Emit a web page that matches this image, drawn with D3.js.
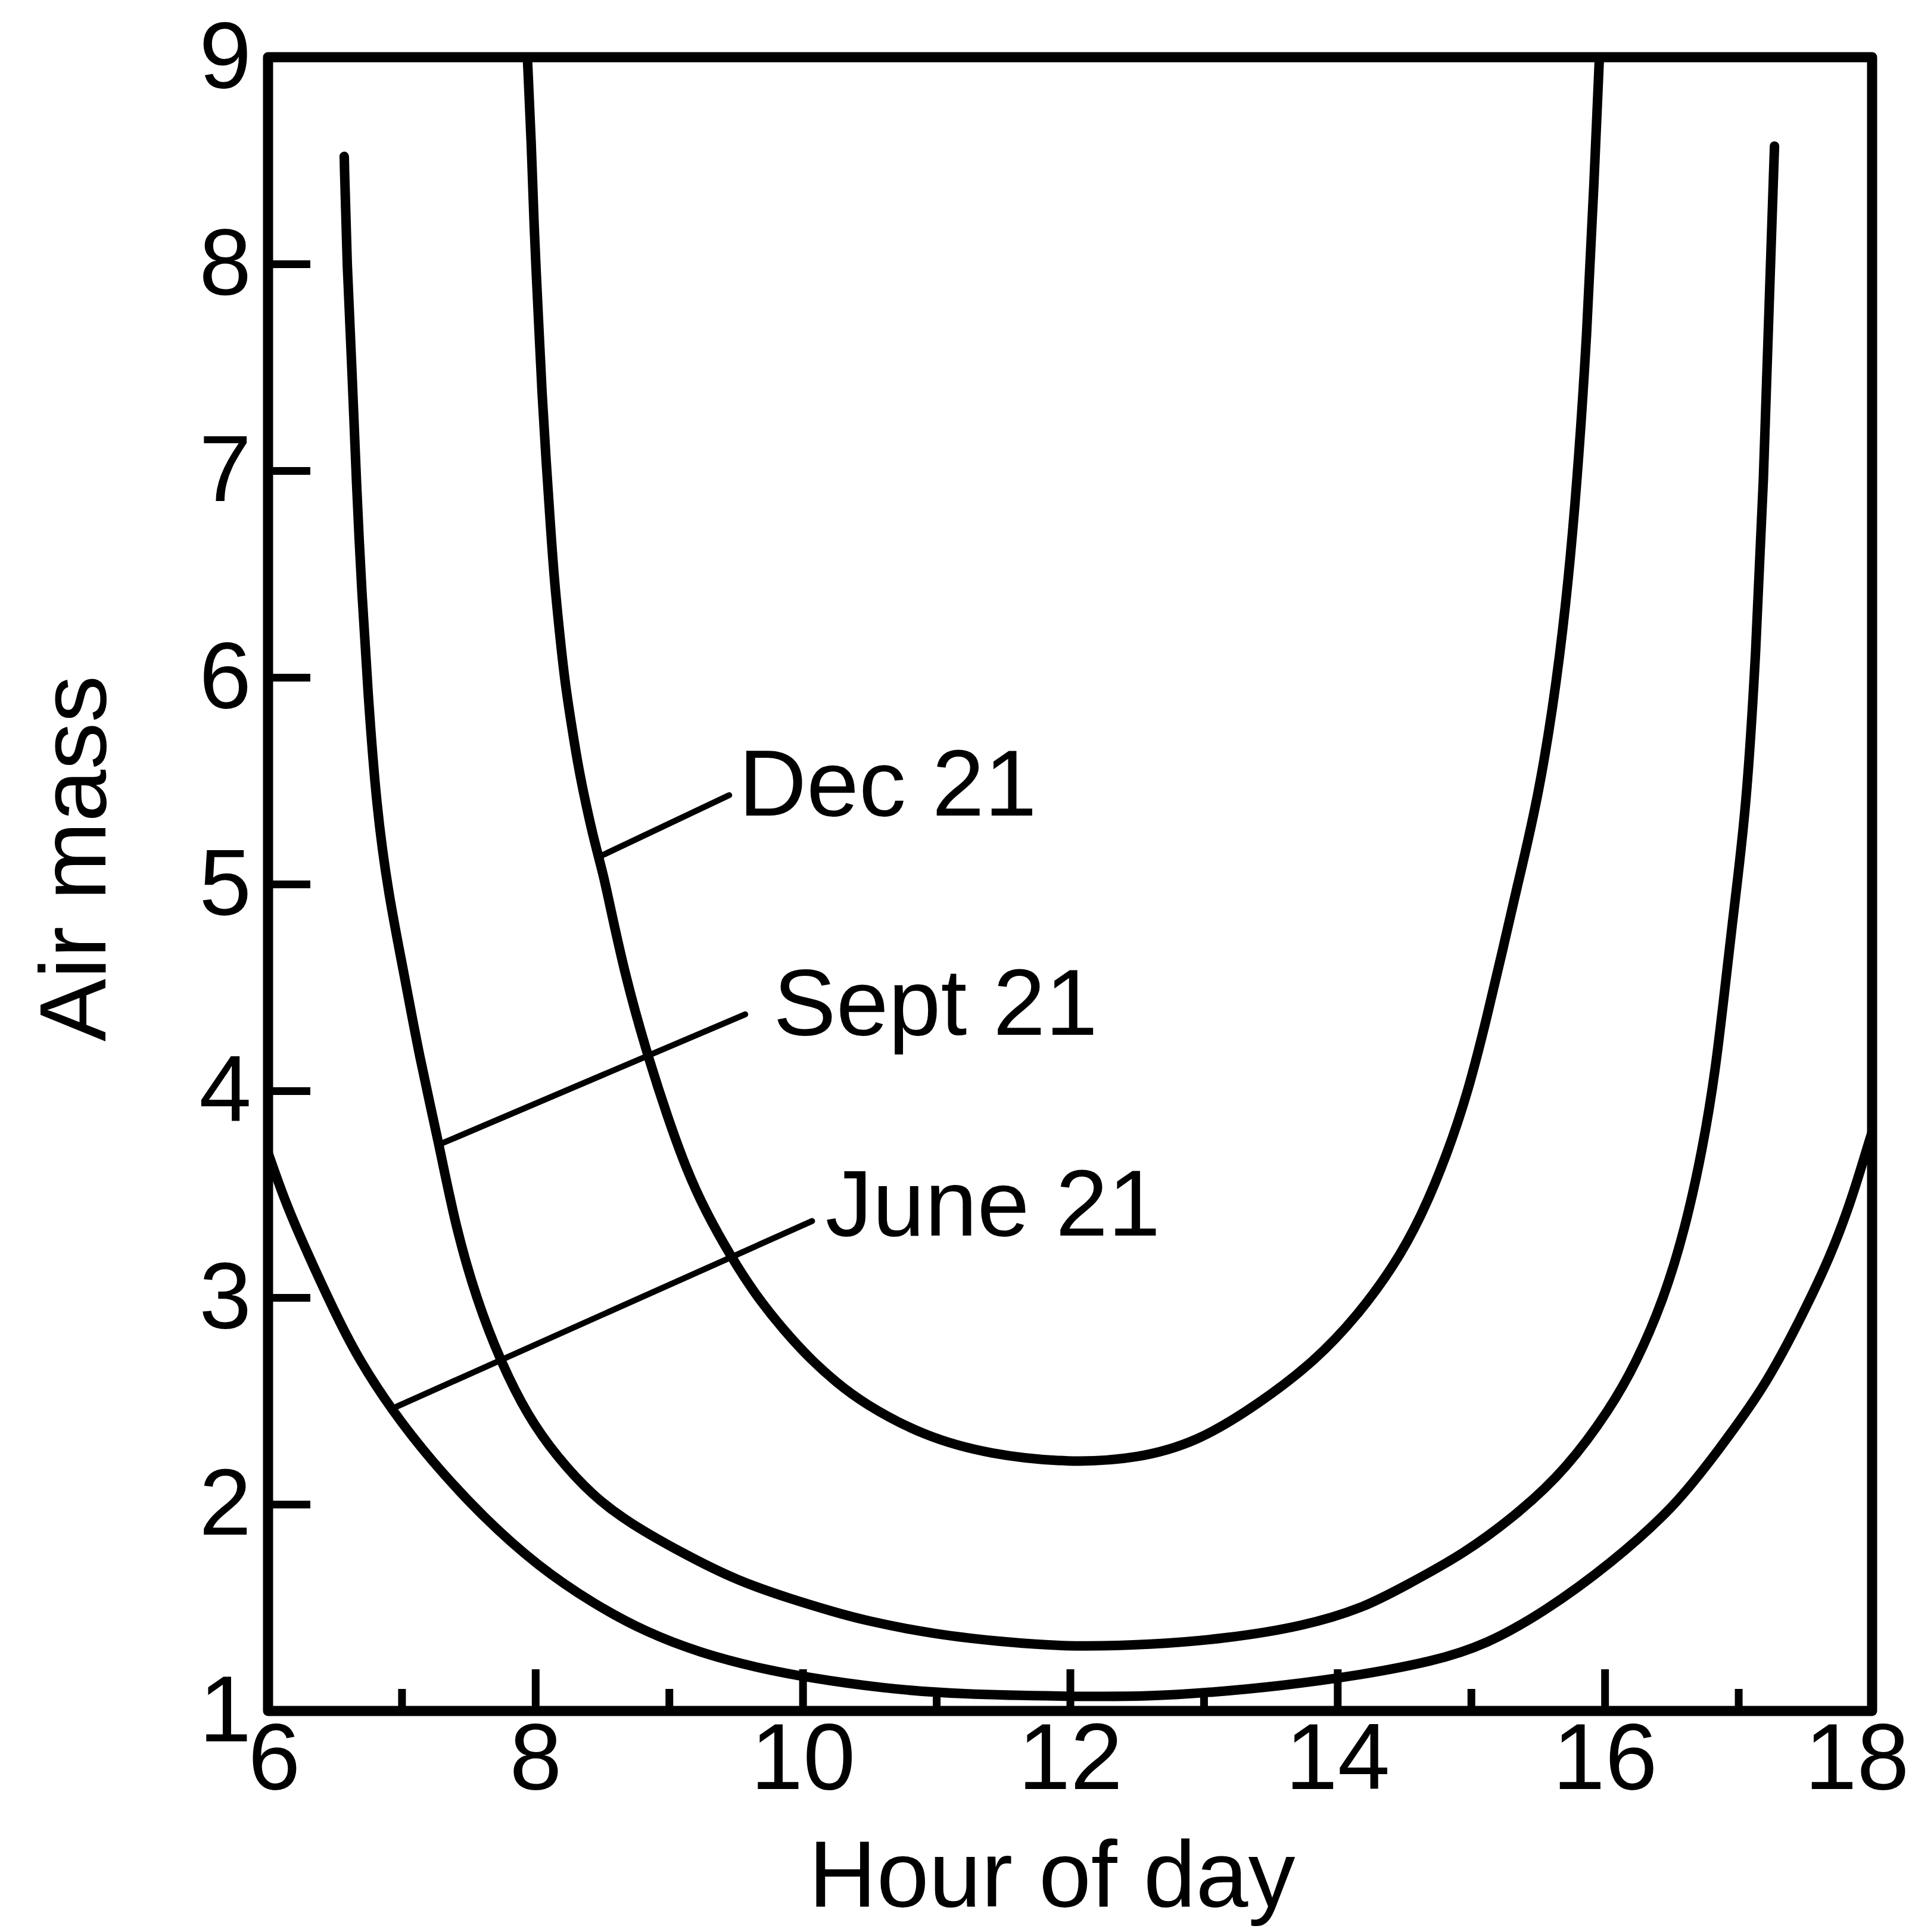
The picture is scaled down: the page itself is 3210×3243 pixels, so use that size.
<!DOCTYPE html>
<html>
<head>
<meta charset="utf-8">
<script src="https://d3js.org/d3.v7.min.js"></script>
<style>
  body { margin: 0; background: #fff; }
  svg text { font-family: "Liberation Sans", Arial, Helvetica, sans-serif; fill: #000; }
  .ticks .domain, .labels .domain { display: none; }
  .ticks line { stroke: #000; stroke-width: 13; }
</style>
</head>
<body>
<svg id="chart" width="3210" height="3243"></svg>
<script>
  // tick values
  const xTickLabels = [6, 8, 10, 12, 14, 16, 18];
  const xMajorTicks = [8, 10, 12, 14, 16];
  const xMinorTicks = [7, 9, 11, 13, 15, 17];
  const yTickLabels = [1, 2, 3, 4, 5, 6, 7, 8, 9];
  const yTicks = [2, 3, 4, 5, 6, 7, 8];

  // Dec 21
  const decHours = [7.94, 7.97, 7.99, 8.02, 8.05, 8.08, 8.11, 8.14, 8.18, 8.22, 8.27, 8.32, 8.38, 8.44, 8.51, 8.54,
    8.67, 8.83, 8.99, 9.13, 9.27, 9.47, 9.65, 9.86, 10.06, 10.25, 10.45, 10.9, 11.4, 12.0, 12.5, 12.95,
    13.40, 13.83, 14.16, 14.42, 14.62, 14.82, 14.98, 15.12, 15.24, 15.33, 15.51, 15.67, 15.78, 15.87, 15.92, 15.96];
  const decAirMass = [9.0, 8.59, 8.17, 7.78, 7.36, 7.05, 6.76, 6.48, 6.22, 5.98, 5.77, 5.57, 5.38, 5.21, 5.04, 4.95,
    4.56, 4.19, 3.87, 3.62, 3.42, 3.19, 3.01, 2.84, 2.70, 2.59, 2.49, 2.33, 2.24, 2.20, 2.22, 2.30,
    2.48, 2.69, 2.92, 3.15, 3.38, 3.69, 4.00, 4.36, 4.69, 4.95, 5.43, 6.10, 6.81, 7.68, 8.40, 9.0];

  // Sept 21
  const septHours = [6.57, 6.59, 6.63, 6.66, 6.70, 6.75, 6.81, 6.90, 7.02, 7.13, 7.28, 7.40, 7.56, 7.74, 7.94, 8.16,
    8.43, 8.70, 9.11, 9.51, 9.92, 10.23, 10.45, 10.98, 11.56, 12.02, 12.60, 13.17, 13.75, 14.2, 14.49, 14.95,
    15.38, 15.71, 16.04, 16.24, 16.44, 16.60, 16.73, 16.83, 16.91, 16.98, 17.06, 17.13, 17.19, 17.23, 17.27];
  const septAirMass = [8.52, 7.99, 7.47, 6.95, 6.42, 5.90, 5.38, 4.95, 4.56, 4.17, 3.74, 3.35, 2.99, 2.69, 2.43, 2.23,
    2.04, 1.91, 1.76, 1.63, 1.54, 1.48, 1.44, 1.37, 1.33, 1.31, 1.32, 1.35, 1.41, 1.50, 1.60, 1.76,
    1.97, 2.17, 2.46, 2.69, 2.99, 3.33, 3.71, 4.10, 4.56, 4.95, 5.38, 6.10, 6.96, 7.82, 8.57];

  // June 21
  const juneHours = [6.00, 6.13, 6.27, 6.49, 6.67, 6.92, 7.22, 7.62, 8.02, 8.43, 8.83, 9.24, 9.65, 10.05, 10.59, 11.17,
    12.02, 12.6, 13.06, 13.56, 14.14, 14.72, 15.11, 15.55, 16.04, 16.53, 16.86, 17.19, 17.46, 17.69, 17.85, 17.97, 18.0];
  const juneAirMass = [3.70, 3.46, 3.25, 2.94, 2.71, 2.46, 2.21, 1.93, 1.70, 1.52, 1.38, 1.28, 1.21, 1.16, 1.11, 1.08,
    1.07, 1.07, 1.09, 1.12, 1.17, 1.24, 1.32, 1.48, 1.71, 1.99, 2.27, 2.56, 2.89, 3.20, 3.48, 3.74, 3.80];

  // curve labels and their leader lines (hour, air mass)
  const labelNames = ["Dec 21", "Sept 21", "June 21"];
  const leaderFromHour = [8.47, 7.28, 6.92];
  const leaderFromAir = [5.13, 3.74, 2.46];
  const leaderToHour = [9.45, 9.57, 10.07];
  const leaderToAir = [5.43, 4.37, 3.37];
  const labelHour = [9.52, 9.78, 10.17];
  const labelAir = [5.33, 4.27, 3.30];

  const series = [
    { name: "Dec 21", pts: d3.zip(decHours, decAirMass) },
    { name: "Sept 21", pts: d3.zip(septHours, septAirMass) },
    { name: "June 21", pts: d3.zip(juneHours, juneAirMass) }
  ];
  const notes = labelNames.map((n, i) => ({
    name: n,
    x1: leaderFromHour[i], y1: leaderFromAir[i],
    x2: leaderToHour[i], y2: leaderToAir[i],
    tx: labelHour[i], ty: labelAir[i]
  }));

  const x = d3.scaleLinear().domain([6, 18]).range([450, 3143]);
  const y = d3.scaleLinear().domain([1, 9]).range([2872, 96]);
  const fontSize = 158;

  const svg = d3.select("svg#chart");
  svg.append("rect").attr("width", 3210).attr("height", 3243).attr("fill", "#fff");

  // b-spline smooths out the small reading errors in the points
  const line = d3.line()
    .x(d => x(d[0]))
    .y(d => y(d[1]))
    .curve(d3.curveBasis);

  svg.append("g").selectAll("path").data(series)
    .join("path")
    .attr("d", s => line(s.pts))
    .attr("fill", "none")
    .attr("stroke", "#000")
    .attr("stroke-width", 16)
    .attr("stroke-linecap", "round")
    .attr("stroke-linejoin", "round");

  svg.append("g").selectAll("line").data(notes)
    .join("line")
    .attr("x1", d => x(d.x1)).attr("y1", d => y(d.y1))
    .attr("x2", d => x(d.x2)).attr("y2", d => y(d.y2))
    .attr("stroke", "#000")
    .attr("stroke-width", 10)
    .attr("stroke-linecap", "round");

  svg.append("g").selectAll("text").data(notes)
    .join("text")
    .attr("x", d => x(d.tx))
    .attr("y", d => y(d.ty))
    .attr("font-size", fontSize)
    .text(d => d.name);

  // ticks pointing inwards, even hours longer
  svg.append("g").attr("class", "ticks")
    .attr("transform", `translate(0,${y(1)})`)
    .call(d3.axisBottom(x).tickValues(xMajorTicks).tickSize(-70).tickFormat(""));
  svg.append("g").attr("class", "ticks")
    .attr("transform", `translate(0,${y(1)})`)
    .call(d3.axisBottom(x).tickValues(xMinorTicks).tickSize(-37).tickFormat(""));
  svg.append("g").attr("class", "ticks")
    .attr("transform", `translate(${x(6)},0)`)
    .call(d3.axisLeft(y).tickValues(yTicks).tickSize(-71).tickFormat(""));

  // frame
  svg.append("rect")
    .attr("x", x(6)).attr("y", y(9))
    .attr("width", x(18) - x(6)).attr("height", y(1) - y(9))
    .attr("fill", "none")
    .attr("stroke", "#000")
    .attr("stroke-width", 17)
    .attr("stroke-linejoin", "round");

  // tick labels
  const xLab = svg.append("g").attr("class", "labels")
    .attr("transform", `translate(0,${y(1)})`)
    .call(d3.axisBottom(x).tickValues(xTickLabels).tickSize(0).tickPadding(19).tickFormat(d3.format("d")));
  xLab.attr("font-size", fontSize).attr("font-family", null);
  xLab.selectAll("text").attr("dx", d => d === 6 ? 10 : d === 18 ? -26 : 0);

  const yLab = svg.append("g").attr("class", "labels")
    .attr("transform", `translate(${x(6)},0)`)
    .call(d3.axisLeft(y).tickValues(yTickLabels).tickSize(0).tickPadding(28).tickFormat(d3.format("d")));
  yLab.attr("font-size", fontSize).attr("font-family", null);

  // axis titles
  svg.append("text")
    .attr("x", 1766).attr("y", 3200)
    .attr("text-anchor", "middle")
    .attr("font-size", fontSize)
    .text("Hour of day");

  svg.append("text")
    .attr("transform", "translate(177,1441) rotate(-90)")
    .attr("text-anchor", "middle")
    .attr("font-size", fontSize)
    .text("Air mass");
</script>
</body>
</html>
